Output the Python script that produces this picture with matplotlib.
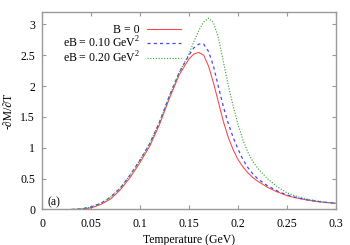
import numpy as np
import matplotlib
matplotlib.use("Agg")
import matplotlib.pyplot as plt

# values
temp = [0.03, 0.04, 0.05, 0.06, 0.07, 0.08, 0.09, 0.10, 0.11, 0.12, 0.13, 0.14,
        0.15, 0.155, 0.16, 0.165, 0.17, 0.175, 0.18, 0.185, 0.19, 0.195, 0.20,
        0.205, 0.21, 0.215, 0.22, 0.23, 0.24, 0.25, 0.26, 0.27, 0.28, 0.29, 0.30]
m_b0 = [0.0, 0.005, 0.025, 0.08, 0.17, 0.32, 0.52, 0.76, 1.03, 1.38, 1.80, 2.18,
        2.44, 2.52, 2.545, 2.50, 2.32, 2.05, 1.74, 1.43, 1.17, 0.97, 0.81,
        0.69, 0.595, 0.52, 0.46, 0.36, 0.285, 0.225, 0.185, 0.155, 0.13, 0.112, 0.10]
m_b10 = [0.0, 0.01, 0.04, 0.10, 0.20, 0.35, 0.56, 0.80, 1.07, 1.42, 1.84, 2.22,
         2.50, 2.62, 2.68, 2.68, 2.56, 2.32, 1.99, 1.67, 1.40, 1.17, 0.98,
         0.81, 0.68, 0.58, 0.50, 0.385, 0.30, 0.235, 0.19, 0.158, 0.133, 0.114, 0.10]
m_b20 = [0.0, 0.01, 0.04, 0.10, 0.20, 0.35, 0.56, 0.80, 1.07, 1.42, 1.84, 2.22,
         2.52, 2.72, 2.90, 3.04, 3.10, 3.03, 2.78, 2.40, 2.02, 1.68, 1.38,
         1.13, 0.93, 0.78, 0.67, 0.50, 0.37, 0.27, 0.21, 0.17, 0.14, 0.118, 0.10]

labels = ["B = 0", "eB = 0.10 GeV$^2$", "eB = 0.20 GeV$^2$"]

plt.rcParams["font.family"] = ["Liberation Serif", "DejaVu Serif"]
plt.rcParams["mathtext.fontset"] = "custom"
plt.rcParams["mathtext.rm"] = "Liberation Serif"
plt.rcParams["font.size"] = 8.5

fig = plt.figure(figsize=(3.5, 2.45), dpi=100)
ax = fig.add_axes([0.12, 0.145, 0.84, 0.806])

ax.plot(temp, m_b0, color="#ff4444", lw=0.75, ls="-", label=labels[0])
ax.plot(temp, m_b10, color="#4646ff", lw=0.9, ls=(0, (2.5, 2.5)), label=labels[1])
ax.plot(temp, m_b20, color="#2e9e2e", lw=0.8, ls=(0, (1, 1.5)), label=labels[2])

ax.set_xlim(0, 0.3)
ax.set_ylim(0, 3.2)
ax.set_xticks([0, 0.05, 0.1, 0.15, 0.2, 0.25, 0.3])
ax.set_xticklabels(["0", "0.05", "0.1", "0.15", "0.2", "0.25", "0.3"])
ax.set_yticks([0, 0.5, 1, 1.5, 2, 2.5, 3])
ax.set_yticklabels(["0", "0.5", "1", "1.5", "2", "2.5", "3"])
ax.tick_params(direction="in", length=3, width=0.8, color="#999999",
               top=True, right=True)
ax.tick_params(axis="x", pad=6)
ax.tick_params(axis="y", pad=5)
for s in ax.spines.values():
    s.set_color("#999999")
    s.set_linewidth(1.0)

ax.set_xlabel("Temperature (GeV)", labelpad=3)
ax.set_ylabel("-∂M/∂T", labelpad=4)
ax.text(0.006, 0.07, "(a)")

leg = ax.legend(loc="upper left", bbox_to_anchor=(0.07, 0.94), frameon=False,
                markerfirst=False, handlelength=2.9, handletextpad=0.6,
                labelspacing=-0.05, borderaxespad=0, borderpad=0)
try:
    leg._legend_handle_box.get_children()[0].align = "right"
except Exception:
    pass

fig.savefig("out.png", dpi=100)
